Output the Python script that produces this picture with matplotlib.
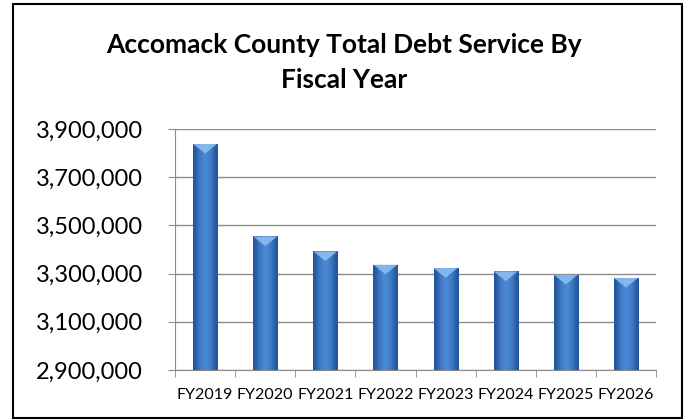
import numpy as np
import matplotlib.pyplot as plt
from matplotlib.patches import Polygon, Rectangle
from matplotlib.ticker import FuncFormatter

years = ["FY2019", "FY2020", "FY2021", "FY2022", "FY2023", "FY2024", "FY2025", "FY2026"]
debt_service = [3838000, 3454000, 3392000, 3337000, 3323000, 3309000, 3295000, 3282000]
y_ticks = [2900000, 3100000, 3300000, 3500000, 3700000, 3900000]

plt.rcParams['font.family'] = ['Lato', 'DejaVu Sans']

fig = plt.figure(figsize=(6.88, 4.2), dpi=100)
ax = fig.add_axes([175 / 688, 1 - 370 / 420, 481 / 688, 241 / 420])

# outer chart frame
fig.add_artist(Rectangle((13 / 688, 2 / 420), 669 / 688, 414 / 420, transform=fig.transFigure,
                         fill=False, edgecolor='black', linewidth=1.5))

x = np.arange(len(years))
bars = ax.bar(x, debt_service, width=0.4, color='#3b72c0', edgecolor='#2a5a9c', linewidth=0.6, zorder=3)

# horizontal shading + chevron highlight on each bar
grad = np.array([[0.0, 0.5, 0.8, 0.95, 0.8, 0.5, 0.0]])
cmap = plt.matplotlib.colors.LinearSegmentedColormap.from_list('b', ['#23559a', '#4c8ad8'])
for b in bars:
    x0, w, h = b.get_x(), b.get_width(), b.get_height()
    im = ax.imshow(grad, cmap=cmap, aspect='auto', extent=(x0, x0 + w, y_ticks[0], h), zorder=3.1,
                   interpolation='bicubic')
    im.set_clip_path(b)
    tri = Polygon([(x0, h), (x0 + w, h), (x0 + w / 2, h - 40000)], closed=True,
                  facecolor='#8fc0f2', edgecolor='none', alpha=0.85, zorder=3.2)
    ax.add_patch(tri)

ax.set_xlim(-0.5, len(years) - 0.5)
ax.set_ylim(y_ticks[0], y_ticks[-1])
ax.set_yticks(y_ticks)
ax.yaxis.set_major_formatter(FuncFormatter(lambda v, p: f"{v:,.0f}"))
ax.grid(axis='y', color='#8c8c8c', linewidth=1.0, zorder=0)

ax.set_xticks(x)
ax.set_xticklabels(years, fontsize=11.5)
ax.set_xticks(np.arange(len(years) + 1) - 0.5, minor=True)
ax.tick_params(axis='x', which='major', length=0, pad=13)
ax.tick_params(axis='x', which='minor', length=5, color='#8c8c8c', direction='out')
ax.tick_params(axis='y', length=5, color='#8c8c8c', labelsize=17, pad=18)

for s in ['top', 'right']:
    ax.spines[s].set_visible(False)
ax.spines['left'].set_color('#8c8c8c')
ax.spines['bottom'].set_color('#8c8c8c')

fig.text(0.5, 1 - 45 / 420, "Accomack County Total Debt Service By", ha='center', va='center',
         fontsize=19, fontweight='bold')
fig.text(0.5, 1 - 80 / 420, "Fiscal Year", ha='center', va='center',
         fontsize=19, fontweight='bold')

fig.savefig("out.png", dpi=100)
